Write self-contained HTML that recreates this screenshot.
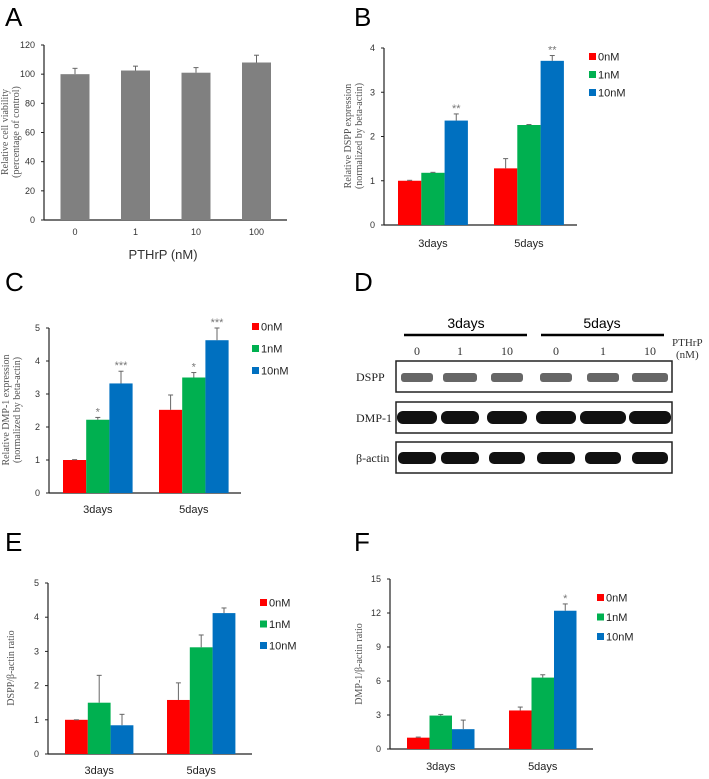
<!DOCTYPE html>
<html><head><meta charset="utf-8"><style>
html,body{margin:0;padding:0;background:#fff;}
svg{display:block;font-family:"Liberation Sans",sans-serif;}
.ser{font-family:"Liberation Serif",serif;}
</style></head><body>
<svg id="fig" width="709" height="779" viewBox="0 0 709 779">
<text x="5" y="26" font-size="26">A</text>
<text x="354" y="26" font-size="26">B</text>
<text x="5" y="291" font-size="26">C</text>
<text x="354" y="291" font-size="26">D</text>
<text x="5" y="551" font-size="26">E</text>
<text x="354" y="551" font-size="26">F</text>

<g id="blot">
<text x="466" y="328" font-size="14" text-anchor="middle">3days</text>
<text x="602" y="328" font-size="14" text-anchor="middle">5days</text>
<line x1="404" y1="335" x2="527" y2="335" stroke="#000" stroke-width="2.5"/>
<line x1="541" y1="335" x2="664" y2="335" stroke="#000" stroke-width="2.5"/>
<text x="672" y="346" font-size="11" class="ser" fill="#333">PTHrP</text>
<text x="676" y="358" font-size="11" class="ser" fill="#333">(nM)</text>
<rect x="396" y="361" width="276" height="31" fill="#fff" stroke="#222" stroke-width="1.5"/>
<rect x="396" y="402" width="276" height="31" fill="#fff" stroke="#222" stroke-width="1.5"/>
<rect x="396" y="442" width="276" height="31" fill="#fff" stroke="#222" stroke-width="1.5"/>
<text x="356" y="381" font-size="12" class="ser" fill="#222">DSPP</text>
<text x="356" y="422" font-size="12" class="ser" fill="#222">DMP-1</text>
<text x="356" y="462" font-size="12" class="ser" fill="#222">β-actin</text>
</g>
</svg>
<script>
const NS="http://www.w3.org/2000/svg";
const svg=document.getElementById('fig');
const groups=["3days","5days"];
const seriesNames=["0nM","1nM","10nM"];
const colors=["#ff0000","#00b050","#0070c0"];

const aCats=["0","1","10","100"];
const aVals=[100,102.5,101,108];
const aErr=[4,3,3.5,5];
const aTicks=[0,20,40,60,80,100,120];

const bVals=[[1.0,1.28],[1.18,2.26],[2.36,3.71]];
const bErr=[[0.01,0.22],[0.01,0.01],[0.15,0.12]];
const bStars=[["",""],["",""],["**","**"]];
const bTicks=[0,1,2,3,4];

const cVals=[[1.0,2.52],[2.22,3.5],[3.32,4.63]];
const cErr=[[0.01,0.45],[0.07,0.15],[0.37,0.37]];
const cStars=[["",""],["*","*"],["***","***"]];
const cTicks=[0,1,2,3,4,5];

const eVals=[[1.0,1.58],[1.5,3.12],[0.84,4.12]];
const eErr=[[0.0,0.5],[0.8,0.36],[0.32,0.15]];
const eStars=[["",""],["",""],["",""]];
const eTicks=[0,1,2,3,4,5];

const fVals=[[1.0,3.4],[2.95,6.3],[1.75,12.2]];
const fErr=[[0.05,0.3],[0.1,0.25],[0.8,0.6]];
const fStars=[["",""],["",""],["","*"]];
const fTicks=[0,3,6,9,12,15];

const bandX=[417,460,507,556,603,650];
const dsppW=[32,34,32,32,32,36];
const dmpW=[40,38,40,40,46,42];
const actW=[38,38,36,38,36,36];

function el(tag,attrs,parent){const e=document.createElementNS(NS,tag);for(const k in attrs)e.setAttribute(k,attrs[k]);(parent||svg).appendChild(e);return e;}

function axes(p,ticks,name){
  const g=el('g',{});
  
  
  const max=ticks[ticks.length-1];
  const y=v=>p.y0-(v/max)*(p.y0-p.yTop);
  el('line',{x1:p.x0,y1:p.yTop,x2:p.x0,y2:p.y0,stroke:'#222','stroke-width':1.2},g);
  el('line',{x1:p.x0,y1:p.y0,x2:p.x1,y2:p.y0,stroke:'#222','stroke-width':1.2},g);
  ticks.forEach(t=>{
    el('line',{x1:p.x0-3,y1:y(t),x2:p.x0,y2:y(t),stroke:'#222'},g);
    const tx=el('text',{x:p.x0-9,y:y(t)+3,'font-size':9,'text-anchor':'end',fill:'#333'},g);
    tx.textContent=t;
    
    
  });
  p.ylabel.forEach((L,i)=>{
    const cx=p.ylx+i*11;
    const t=el('text',{x:cx,y:p.yly,'font-size':10,'text-anchor':'middle',fill:'#555','class':'ser',transform:`rotate(-90 ${cx} ${p.yly})`},g);
    t.textContent=L;
    
    
  });
  return y;
}

function grouped(p,vals,err,stars,ticks,name){
  const y=axes(p,ticks,name);
  vals.forEach((sv,s)=>{
    sv.forEach((v,gi)=>{
      const x=p.gx[gi]+s*p.bw;
      const r=el('rect',{x:x,y:y(v),width:p.bw,height:p.y0-y(v),fill:colors[s]});
      
      
      const cx=x+p.bw/2, ye=y(v+err[s][gi]);
      el('line',{x1:cx,y1:y(v),x2:cx,y2:ye,stroke:'#666','stroke-width':1});
      el('line',{x1:cx-2.5,y1:ye,x2:cx+2.5,y2:ye,stroke:'#666','stroke-width':1});
      if(stars[s][gi]){
        const st=el('text',{x:cx,y:ye-2,'font-size':11,'text-anchor':'middle',fill:'#777'});
        st.textContent=stars[s][gi];
        
        
      }
    });
  });
  groups.forEach((gname,gi)=>{
    const t=el('text',{x:p.gx[gi]+1.5*p.bw,y:p.labY,'font-size':11,'text-anchor':'middle',fill:'#222'});
    t.textContent=gname;
    
    
  });
  seriesNames.forEach((sn,s)=>{
    const ly=p.legY+s*p.legDy;
    const r=el('rect',{x:p.legX,y:ly-4,width:7,height:7,fill:colors[s]});
    
    
    const t=el('text',{x:p.legX+9,y:ly+3.5,'font-size':11,fill:'#222'});
    t.textContent=sn;
    
    
  });
}

(function(){
  const p={x0:44,x1:287,y0:220,yTop:45,ylabel:["Relative cell viability","(percentage of control)"],ylx:8,yly:132};
  const y=axes(p,aTicks,'panel-a');
  const cx0=75,step=60.5,bw=29;
  aVals.forEach((v,i)=>{
    const cx=cx0+i*step;
    const r=el('rect',{x:cx-bw/2,y:y(v),width:bw,height:p.y0-y(v),fill:'#808080'});
    
    
    const ye=y(v+aErr[i]);
    el('line',{x1:cx,y1:y(v),x2:cx,y2:ye,stroke:'#666'});
    el('line',{x1:cx-2.5,y1:ye,x2:cx+2.5,y2:ye,stroke:'#666'});
    const t=el('text',{x:cx,y:235,'font-size':9,'text-anchor':'middle',fill:'#333'});
    t.textContent=aCats[i];
    
    
  });
  const t=el('text',{x:163,y:259,'font-size':13,'text-anchor':'middle',fill:'#333'});
  t.textContent="PTHrP (nM)";
  
  
})();

grouped({x0:384,x1:577,y0:225,yTop:48,gx:[398,494],bw:23.3,labY:247,legX:589,legY:57,legDy:18,
  ylabel:["Relative DSPP expression","(normalized by beta-actin)"],ylx:351,yly:136},bVals,bErr,bStars,bTicks,'panel-b');
grouped({x0:49,x1:241,y0:493,yTop:328,gx:[63,159],bw:23.2,labY:513,legX:252,legY:327,legDy:22,
  ylabel:["Relative DMP-1 expression","(normalized by beta-actin)"],ylx:9,yly:410},cVals,cErr,cStars,cTicks,'panel-c');
grouped({x0:48,x1:252,y0:754,yTop:583,gx:[65,167],bw:22.8,labY:774,legX:260,legY:603,legDy:21.5,
  ylabel:["DSPP/β-actin ratio"],ylx:14,yly:668},eVals,eErr,eStars,eTicks,'panel-e');
grouped({x0:390,x1:593,y0:749,yTop:579,gx:[407,509],bw:22.5,labY:770,legX:597,legY:598,legDy:19.5,
  ylabel:["DMP-1/β-actin ratio"],ylx:362,yly:664},fVals,fErr,fStars,fTicks,'panel-f');

const blot=document.getElementById('blot');
const lanes=["0","1","10","0","1","10"];
lanes.forEach((l,i)=>{
  const t=el('text',{x:bandX[i],y:355,'font-size':12,'text-anchor':'middle','class':'ser',fill:'#333'},blot);
  t.textContent=l;
  
  
  const b1=el('rect',{x:bandX[i]-dsppW[i]/2,y:373,width:dsppW[i],height:9,rx:3,fill:'#333',opacity:0.75},blot);
  
  
  const b2=el('rect',{x:bandX[i]-dmpW[i]/2,y:411,width:dmpW[i],height:13,rx:6,fill:'#111'},blot);
  
  
  const b3=el('rect',{x:bandX[i]-actW[i]/2,y:452,width:actW[i],height:12,rx:5,fill:'#111'},blot);
  
  
});
</script>
</body></html>
